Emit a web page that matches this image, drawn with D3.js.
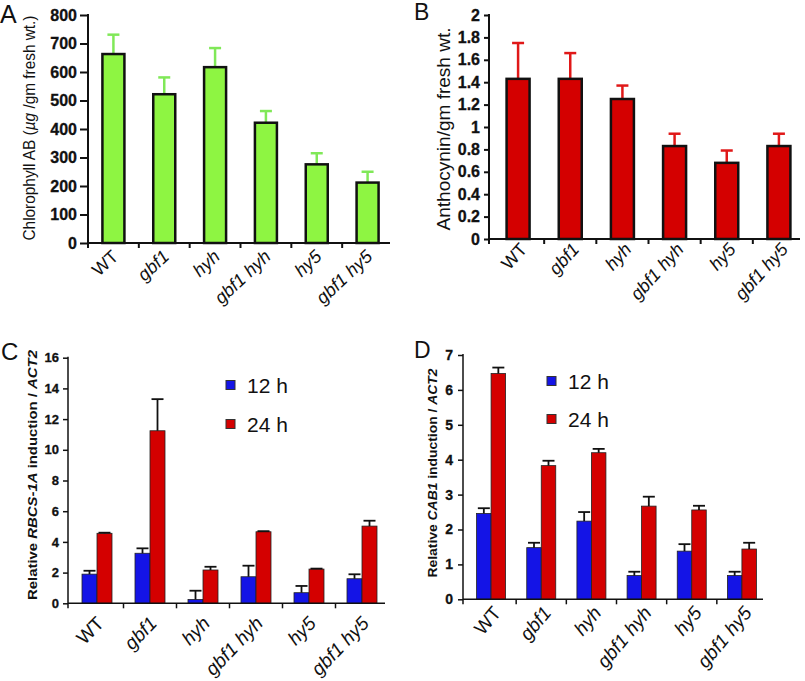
<!DOCTYPE html>
<html>
<head>
<meta charset="utf-8">
<script src="https://cdn.jsdelivr.net/npm/d3@7"></script>
<style>
body{margin:0;background:#fff}
svg{display:block;font-family:"Liberation Sans",Arial,sans-serif}
</style>
</head>
<body>
<svg id="fig" width="805" height="681"></svg>
<script>
//data
var strains = ['WT','gbf1','hyh','gbf1 hyh','hy5','gbf1 hy5'];

var chlorophyll    = [663, 522, 617, 422, 276, 212];
var chlorophyllErr = [68, 59, 67, 41, 39, 38];

var anthocyanin    = [1.43, 1.43, 1.25, 0.83, 0.68, 0.83];
var anthocyaninErr = [0.32, 0.23, 0.12, 0.11, 0.11, 0.11];

var rbcs12    = [1.9, 3.26, 0.25, 1.73, 0.69, 1.6];
var rbcs12Err = [0.22, 0.32, 0.57, 0.72, 0.44, 0.29];
var rbcs24    = [4.56, 11.24, 2.17, 4.66, 2.23, 5.03];
var rbcs24Err = [0.04, 2.06, 0.21, 0.04, 0.03, 0.35];

var cab12    = [2.46, 1.48, 2.24, 0.68, 1.38, 0.68];
var cab12Err = [0.15, 0.14, 0.26, 0.11, 0.2, 0.11];
var cab24    = [6.47, 3.83, 4.2, 2.67, 2.56, 1.44];
var cab24Err = [0.17, 0.14, 0.11, 0.27, 0.12, 0.18];

var series = ['12 h', '24 h'];

var chlTicks  = [0,100,200,300,400,500,600,700,800];
var anthTicks = [0,0.2,0.4,0.6,0.8,1,1.2,1.4,1.6,1.8,2];
var rbcsTicks = [0,2,4,6,8,10,12,14,16];
var cabTicks  = [0,1,2,3,4,5,6,7];

var svg = d3.select('#fig');

//rotated y title made of plain / italic pieces
function yTitle(g, parts, x, y, size, weight, len){
	var t = g.append('text')
		.attr('transform','translate('+x+','+y+') rotate(-90)')
		.attr('text-anchor','middle')
		.style('font-size', size+'px')
		.style('font-weight', weight)
		.attr('fill','#111');
	if(len) t.attr('textLength',len).attr('lengthAdjust','spacingAndGlyphs');
	parts.forEach(function(p){
		t.append('tspan').text(p[0]).style('font-style', p[1] ? 'italic' : 'normal');
	});
}

function panel(o){
	var g = svg.append('g');
	var y = d3.scaleLinear().domain([0, o.ymax]).range([o.y0, o.y1]);
	var slot = d3.scaleBand().domain(strains).range([o.sx0, o.sx1]);
	var mid = function(c){ return slot(c) + slot.bandwidth()/2; };

	function drawErr(data, s, off){
		var cx = function(d){ return mid(d.c) + off + o.barW/2; };
		g.selectAll(null).data(data).enter()
			.append('line')
			.attr('x1', cx).attr('x2', cx)
			.attr('y1', function(d){ return y(d.v); })
			.attr('y2', function(d){ return y(d.v + d.e); })
			.attr('stroke', s.errColor).attr('stroke-width', o.errW);
		g.selectAll(null).data(data).enter()
			.append('line')
			.attr('x1', function(d){ return cx(d) - o.capW/2; })
			.attr('x2', function(d){ return cx(d) + o.capW/2; })
			.attr('y1', function(d){ return y(d.v + d.e); })
			.attr('y2', function(d){ return y(d.v + d.e); })
			.attr('stroke', s.errColor).attr('stroke-width', o.errW);
	}

	//bars, one entry per series
	o.sets.forEach(function(s, k){
		var off = o.sets.length == 1 ? -o.barW/2 : (k == 0 ? -o.barW : 0);
		var data = strains.map(function(c,i){ return {c:c, v:s.values[i], e:s.err[i]}; });

		if(!o.errOnTop) drawErr(data, s, off);

		g.selectAll(null).data(data).enter()
			.append('rect')
			.attr('x', function(d){ return mid(d.c) + off; })
			.attr('width', o.barW)
			.attr('y', function(d){ return y(d.v); })
			.attr('height', function(d){ return o.y0 - y(d.v); })
			.attr('fill', s.color)
			.attr('stroke', o.barStroke)
			.attr('stroke-width', o.barStrokeW);

		if(o.errOnTop) drawErr(data, s, off);
	});

	//y axis
	var ya = g.append('g')
		.attr('transform','translate('+o.ax+',0)')
		.call(d3.axisLeft(y).tickValues(o.ticks).tickFormat(d3.format('')).tickSize(o.tickLen).tickPadding(o.tickPad).tickSizeOuter(0));
	ya.attr('font-family', null).attr('font-size', null);
	ya.select('.domain').attr('stroke','#111').attr('stroke-width',o.axisW)
		.attr('d','M0,'+(o.y1-1)+'V'+(o.y0+5));
	ya.selectAll('.tick line').attr('stroke','#111').attr('stroke-width',o.axisW);
	ya.selectAll('.tick text')
		.attr('fill','#111')
		.style('font-size', o.tickFont+'px')
		.style('font-weight','700')
		.style('stroke','#111').style('stroke-width','0.3px');

	//x axis: baseline plus ticks between the groups
	g.append('line')
		.attr('x1', o.ax).attr('x2', o.axEnd)
		.attr('y1', o.y0).attr('y2', o.y0)
		.attr('stroke','#111').attr('stroke-width',o.axisW);
	g.selectAll(null).data(strains.slice(1)).enter()
		.append('line')
		.attr('x1', function(c){ return slot(c); }).attr('x2', function(c){ return slot(c); })
		.attr('y1', o.y0).attr('y2', o.y0 + 5)
		.attr('stroke','#111').attr('stroke-width',o.axisW);

	g.selectAll(null).data(strains).enter()
		.append('text')
		.attr('transform', function(c){ return 'translate('+(mid(c)+o.lblDx)+','+(o.y0+o.lblDy)+') rotate('+o.lblRot+')'; })
		.attr('text-anchor','end')
		.style('font-size', o.lblFont+'px')
		.style('font-style', function(c){ return c == 'WT' ? 'normal' : 'italic'; })
		.attr('fill','#111')
		.text(function(c){ return c; });

	//panel letter
	g.append('text')
		.attr('x', o.letter[1]).attr('y', o.letter[2])
		.style('font-size', o.letter[3]+'px')
		.attr('fill','#111')
		.text(o.letter[0]);

	yTitle(g, o.title, o.title_x, o.title_y, o.titleFont, o.titleWeight, o.titleLen);

	//legend
	if(o.legend){
		o.sets.forEach(function(s,k){
			var ly = o.legend[1] + k*o.legend[2];
			g.append('rect')
				.attr('x', o.legend[0]).attr('y', ly - 4.5)
				.attr('width', 9).attr('height', 9)
				.attr('fill', s.color).attr('stroke','#333').attr('stroke-width',1);
			g.append('text')
				.attr('x', o.legend[0] + 21).attr('y', ly + 7.5)
				.style('font-size','21px')
				.attr('fill','#111')
				.text(series[k]);
		});
	}
}

//A
panel({
	ymax:800, y0:243, y1:15, sx0:88, sx1:393, ax:88, axEnd:390,
	ticks:chlTicks, tickLen:8, tickPad:3, tickFont:16, axisW:2,
	barW:22, barStroke:'#111', barStrokeW:2.5, errW:2.5, capW:12, errOnTop:false,
	sets:[{values:chlorophyll, err:chlorophyllErr, color:'#8ef542', errColor:'#80e858'}],
	lblDx:6, lblDy:15, lblFont:18, lblRot:-43,
	letter:['A',0,23,25],
	title:[['Chlorophyll AB (',0],['\u00b5g',1],[' /gm fresh wt.)',0]],
	title_x:35, title_y:128, titleFont:16, titleWeight:'normal', titleLen:225
});

//B
panel({
	ymax:2, y0:239, y1:15, sx0:492, sx1:805, ax:489, axEnd:800,
	ticks:anthTicks, tickLen:5, tickPad:4, tickFont:16, axisW:2,
	barW:23, barStroke:'#111', barStrokeW:2.5, errW:2.5, capW:12, errOnTop:false,
	sets:[{values:anthocyanin, err:anthocyaninErr, color:'#d40000', errColor:'#e01818'}],
	lblDx:10, lblDy:11, lblFont:18, lblRot:-48,
	letter:['B',414,20,23],
	title:[['Anthocynin/gm fresh wt.',0]],
	title_x:450, title_y:129, titleFont:19, titleWeight:'normal', titleLen:203
});

//C
panel({
	ymax:16, y0:603.3, y1:357.7, sx0:70.5, sx1:388.5, ax:68, axEnd:385,
	ticks:rbcsTicks, tickLen:5, tickPad:4, tickFont:13, axisW:1.5,
	barW:15, barStroke:'#222', barStrokeW:0.8, errW:1.8, capW:12, errOnTop:true,
	sets:[{values:rbcs12, err:rbcs12Err, color:'#1414e6', errColor:'#111'},
		  {values:rbcs24, err:rbcs24Err, color:'#d40000', errColor:'#111'}],
	lblDx:8, lblDy:21, lblFont:19, lblRot:-46,
	letter:['C',1,360,24],
	title:[['Relative ',0],['RBCS-1A',1],[' induction / ',0],['ACT2',1]],
	title_x:37, title_y:475, titleFont:13, titleWeight:'bold', titleLen:250,
	legend:[226, 385, 39]
});

//D
panel({
	ymax:7, y0:599.3, y1:355, sx0:466, sx1:767, ax:463, axEnd:763,
	ticks:cabTicks, tickLen:5, tickPad:5, tickFont:14, axisW:1.5,
	barW:14.5, barStroke:'#222', barStrokeW:0.8, errW:1.8, capW:12, errOnTop:true,
	sets:[{values:cab12, err:cab12Err, color:'#1414e6', errColor:'#111'},
		  {values:cab24, err:cab24Err, color:'#d40000', errColor:'#111'}],
	lblDx:11, lblDy:14, lblFont:19, lblRot:-50,
	letter:['D',414,358,23],
	title:[['Relative ',0],['CAB1',1],[' induction / ',0],['ACT2',1]],
	title_x:437, title_y:473, titleFont:12.5, titleWeight:'bold', titleLen:209,
	legend:[547, 381, 38]
});
</script>
</body>
</html>
